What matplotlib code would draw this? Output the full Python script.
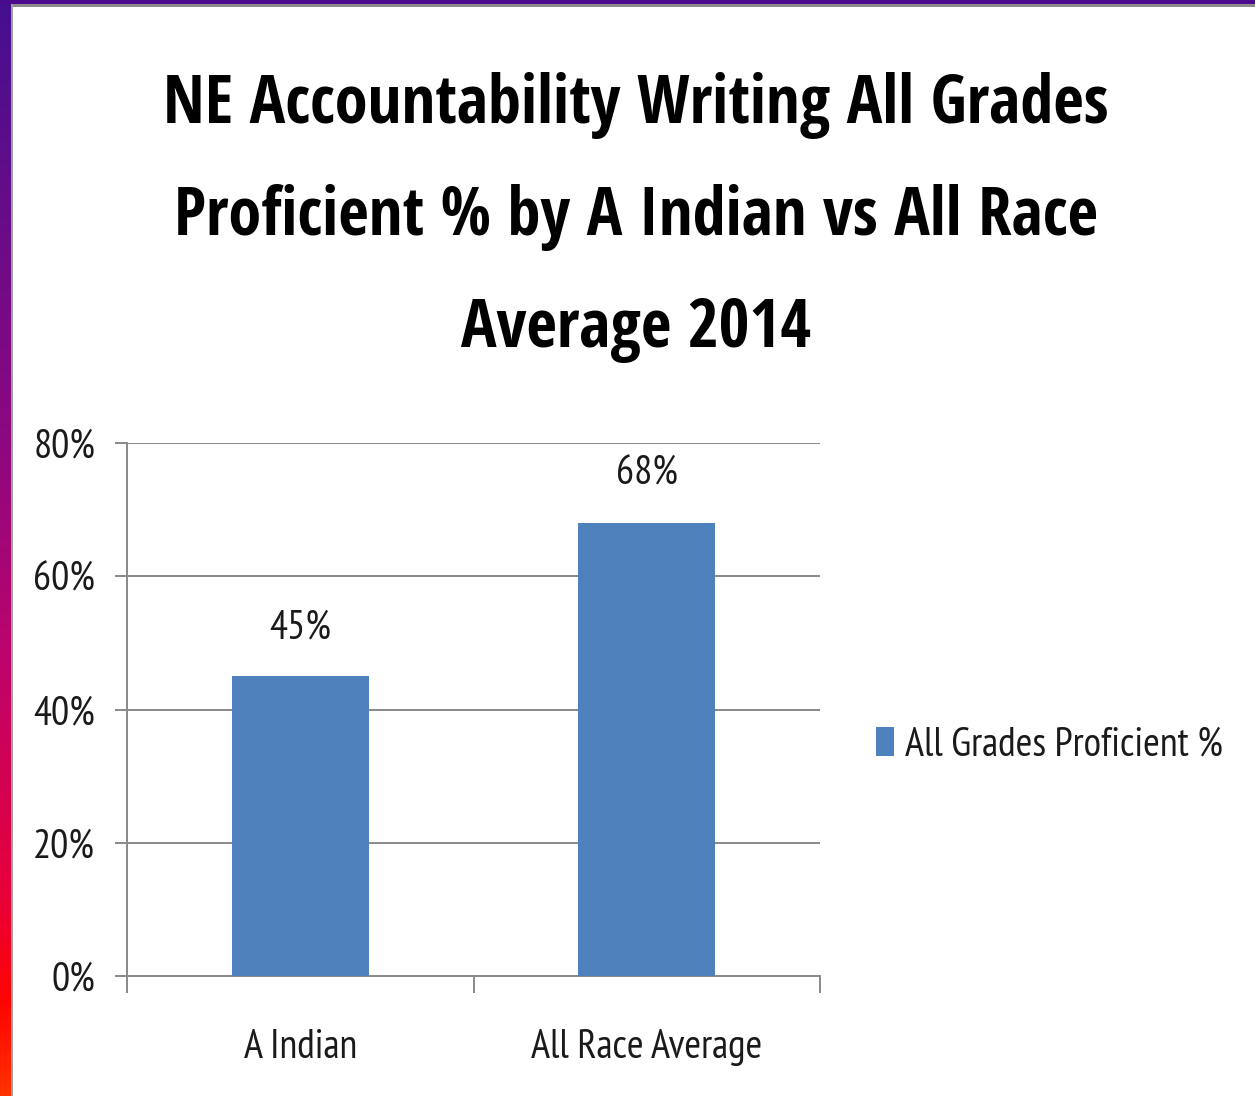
import matplotlib
matplotlib.use("Agg")
import matplotlib.pyplot as plt
import numpy as np
from matplotlib.patches import Rectangle
from matplotlib.colors import LinearSegmentedColormap

categories = ["A Indian", "All Race Average"]
values = [45, 68]
series_name = "All Grades Proficient %"
yticks = [0, 20, 40, 60, 80]
ytick_labels = ["0%", "20%", "40%", "60%", "80%"]
title_lines = ["NE Accountability Writing All Grades",
               "Proficient % by A Indian vs All Race",
               "Average 2014"]

TITLE_FONT = ["Open Sans Condensed", "PT Sans Narrow", "DejaVu Sans"]
BODY_FONT = ["PT Sans Narrow", "DejaVu Sans"]
plt.rcParams['font.family'] = BODY_FONT

W, H = 1255, 1096
PX = 72 / 100  # points per pixel at dpi 100
fig = plt.figure(figsize=(W / 100, H / 100), dpi=100)
fig.patch.set_facecolor("white")

# slide border decorations
bg = fig.add_axes([0, 0, 1, 1], zorder=-10)
bg.set_xlim(0, W); bg.set_ylim(H, 0); bg.axis("off")
grad = np.linspace(0, 1, 256).reshape(-1, 1)
cmap = LinearSegmentedColormap.from_list(
    "g", [(0, "#45108f"), (0.4, "#8c0880"), (0.6, "#bd046c"), (0.82, "#e8003a"), (0.92, "#ff0500"), (1, "#ff3200")])
bg.imshow(grad, aspect="auto", cmap=cmap, extent=[0, 11, H, 0], interpolation="bilinear")
bg.add_patch(Rectangle((0, 0), W, 3.5, color="#4b0a8c", lw=0))
bg.add_patch(Rectangle((11, 3.5), W, 3.5, color="#8c8c8c", lw=0))
bg.add_patch(Rectangle((11, 3.5), 2.2, H, color="#a0a0a0", lw=0))

ax = fig.add_axes([127 / W, 1 - 976 / H, (820 - 127) / W, (976 - 443) / H])
x = np.arange(len(categories))
bars = ax.bar(x, values, width=0.395, color="#4F81BD", zorder=3, label=series_name)
ax.set_xlim(-0.5, len(categories) - 0.5)
ax.set_ylim(0, 80)
ax.set_yticks(yticks)
ax.set_yticklabels(ytick_labels, fontsize=29, color="#1a1a1a")
ax.yaxis.grid(True, color="#8c8c8c", linewidth=2 * PX, zorder=0)
for s in ["top", "right"]:
    ax.spines[s].set_visible(False)
for s in ["left", "bottom"]:
    ax.spines[s].set_color("#8c8c8c")
    ax.spines[s].set_linewidth(2 * PX)
ax.tick_params(axis="y", length=12 * PX, width=2 * PX, color="#8c8c8c", pad=20 * PX)
ax.set_xticks(x)
ax.set_xticklabels(categories, fontsize=29, color="#1a1a1a", va="baseline")
ax.tick_params(axis="x", which="major", length=0, pad=82 * PX)
ax.set_xticks(np.arange(-0.5, len(categories), 1.0), minor=True)
ax.tick_params(axis="x", which="minor", length=17 * PX, width=2 * PX, color="#8c8c8c")

for xi, v in zip(x, values):
    ax.annotate(f"{v}%", (xi, v), xytext=(0, 38 * PX), textcoords="offset points",
                ha="center", va="baseline", fontsize=29, color="#1a1a1a")

fig.legend(handles=[bars], labels=[series_name], loc="center left",
           bbox_to_anchor=(876 / W, 1 - 745 / H), frameon=False,
           fontsize=29, handlelength=0.45, handleheight=0.75, handletextpad=0.27,
           borderpad=0, borderaxespad=0, labelcolor="#1a1a1a")

baselines = [123, 235, 347]
for line, yb in zip(title_lines, baselines):
    fig.text(636 / W, 1 - yb / H, line, ha="center", va="baseline", fontsize=48,
             fontweight="bold", family=TITLE_FONT, color="black")

fig.savefig("out.png", dpi=100)
